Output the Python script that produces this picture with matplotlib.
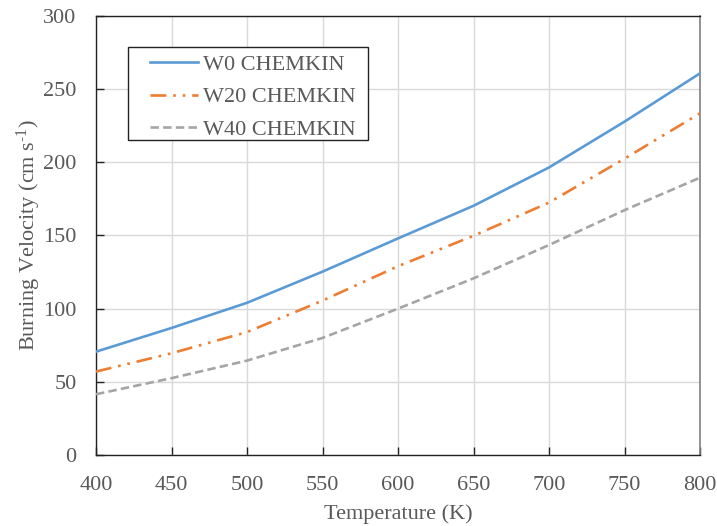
import matplotlib
matplotlib.use("Agg")
import matplotlib.pyplot as plt
from matplotlib.ticker import MultipleLocator
from matplotlib.patches import Rectangle

temperature = [400, 450, 500, 550, 600, 650, 700, 750, 800]
w0 = [70.6, 86.8, 104.0, 125.3, 148.0, 170.3, 196.5, 227.8, 260.8]
w20 = [57.0, 69.5, 84.0, 105.5, 129.0, 149.8, 172.5, 202.5, 233.5]
w40 = [41.5, 52.5, 64.5, 80.0, 100.0, 120.7, 143.5, 167.3, 189.5]
series_labels = ["W0 CHEMKIN", "W20 CHEMKIN", "W40 CHEMKIN"]

plt.rcParams['font.family'] = ['Liberation Serif', 'DejaVu Serif']
plt.rcParams['mathtext.fontset'] = 'custom'
plt.rcParams['mathtext.rm'] = 'Liberation Serif'
plt.rcParams['mathtext.it'] = 'Liberation Serif:italic'
text_color = '#595959'
fs = 16

fig = plt.figure(figsize=(7.17, 5.26), dpi=100)
ax = fig.add_axes([0.1339, 0.135, 0.9763 - 0.1339, 0.9696 - 0.135])

lw = 1.9
ax.plot(temperature, w0, color='#5B9BD5', lw=lw, label=series_labels[0], zorder=3)
ax.plot(temperature, w20, color='#ED7D31', lw=lw, label=series_labels[1],
        dashes=(6, 2.6, 1, 2.6, 1, 2.6), zorder=3)
ax.plot(temperature, w40, color='#A5A5A5', lw=lw, label=series_labels[2],
        dashes=(3.2, 1.6), zorder=3)

ax.set_xlim(400, 800)
ax.set_ylim(0, 300)
ax.xaxis.set_major_locator(MultipleLocator(50))
ax.yaxis.set_major_locator(MultipleLocator(50))
ax.grid(True, color='#d9d9d9', lw=1.0, zorder=0)
ax.set_axisbelow(True)

ax.tick_params(axis='both', direction='in', length=6, width=1.0, color='#222222',
               labelsize=fs, labelcolor=text_color)
ax.tick_params(axis='x', top=False, pad=15)
ax.tick_params(axis='y', right=False, pad=14)

for side in ['left', 'bottom', 'top']:
    ax.spines[side].set_color('#222222')
    ax.spines[side].set_linewidth(1.0)
ax.spines['right'].set_color('#808080')
ax.spines['right'].set_linewidth(1.2)

ax.set_xlabel('Temperature (K)', fontsize=fs, color=text_color, labelpad=7)
ax.set_ylabel('Burning Velocity (cm s$^{\\mathregular{\u20101}}$)', fontsize=fs,
              color=text_color, labelpad=0)

# legend frame (pixel box 128..368 x 47..140)
x0 = (128 - 96) / 604
x1 = (368 - 96) / 604
y1 = (455 - 47) / 439
y0 = (455 - 140) / 439
ax.add_patch(Rectangle((x0, y0), x1 - x0, y1 - y0, transform=ax.transAxes,
                       facecolor='white', edgecolor='#222222', lw=1.0, zorder=4))

leg = ax.legend(loc='upper left', bbox_to_anchor=((150 - 96) / 604, (455 - 54.5) / 439),
                frameon=False, fontsize=fs, handlelength=2.15,
                borderpad=0.0, labelspacing=0.53, handletextpad=0.25, borderaxespad=0)
leg.set_zorder(5)
for t in leg.get_texts():
    t.set_color(text_color)

fig.savefig('out.png', dpi=100)
